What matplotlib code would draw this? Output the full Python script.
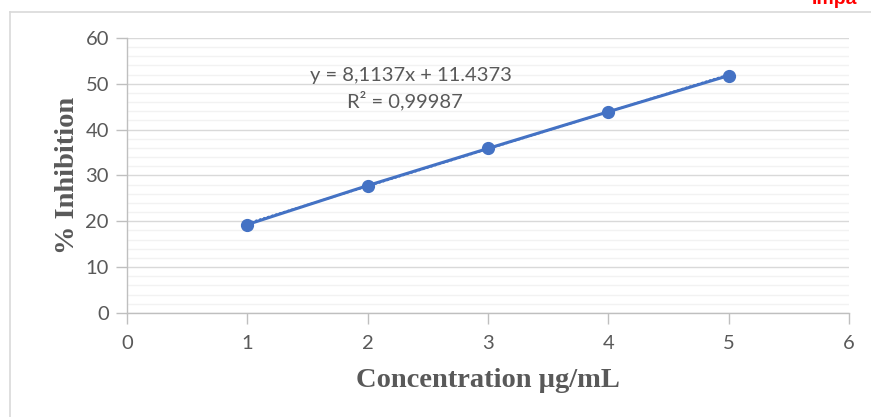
import matplotlib
matplotlib.use("Agg")
import matplotlib.pyplot as plt
from matplotlib.ticker import MultipleLocator
import numpy as np

conc = [1, 2, 3, 4, 5]
inhibition = [19.3, 27.8, 35.9, 43.9, 51.8]
slope, intercept = 8.1137, 11.4373
eq_text = "y = 8,1137x + 11.4373"
r2_text = "R² = 0,99987"
xlabel = "Concentration µg/mL"
ylabel = "% Inhibition"

gray = "#595959"
blue = "#4472C4"

fig = plt.figure(figsize=(8.71, 4.17), dpi=100)
ax = fig.add_axes([0.1458, 0.2494, 0.8289, 0.6595])

# chart frame lines
fig.add_artist(plt.Line2D([0.0115, 0.0115], [0.0, 0.972], color="#D9D9D9", lw=1.2, transform=fig.transFigure))
fig.add_artist(plt.Line2D([0.0115, 1.0], [0.972, 0.972], color="#D9D9D9", lw=1.2, transform=fig.transFigure))
fig.text(0.932, 1.0, "Impa", color="red", fontsize=14, fontweight="bold", family="Liberation Sans", va="center", ha="left")

ax.set_xlim(0, 6)
ax.set_ylim(0, 60)
ax.xaxis.set_major_locator(MultipleLocator(1))
ax.yaxis.set_major_locator(MultipleLocator(10))
ax.yaxis.set_minor_locator(MultipleLocator(2))
ax.grid(which="major", axis="y", color="#D9D9D9", lw=1.0)
ax.grid(which="minor", axis="y", color="#F2F2F2", lw=1.0)
ax.set_axisbelow(True)

for s in ["top", "right"]:
    ax.spines[s].set_visible(False)
for s in ["left", "bottom"]:
    ax.spines[s].set_color("#BFBFBF")
    ax.spines[s].set_linewidth(1.0)

ax.tick_params(axis="both", which="major", direction="out", length=8, width=1.0, color="#BFBFBF",
               labelcolor=gray, labelsize=14.5, pad=5)
ax.tick_params(axis="x", which="major", pad=8)
ax.tick_params(axis="y", which="minor", length=0)
for lab in ax.get_xticklabels() + ax.get_yticklabels():
    lab.set_family("Lato")

xs = np.array(conc, dtype=float)
ax.plot(xs, slope * xs + intercept, color=blue, lw=1.5, ls=(0, (1, 1)), zorder=3)
ax.plot(conc, inhibition, color=blue, lw=2.2, marker="o", markersize=8.5, zorder=4, clip_on=False)

ax.text(2.36, 51.9, eq_text, ha="center", va="center", color=gray, fontsize=14.5, family="Lato")
ax.text(2.31, 46.3, r2_text, ha="center", va="center", color=gray, fontsize=14.5, family="Lato")

ax.set_xlabel(xlabel, family="Liberation Serif", fontweight="bold", fontsize=20.5, color=gray, labelpad=11)
ax.set_ylabel(ylabel, family="Liberation Serif", fontweight="bold", fontsize=20.5, color=gray, labelpad=4)

fig.savefig("out.png", dpi=100)
